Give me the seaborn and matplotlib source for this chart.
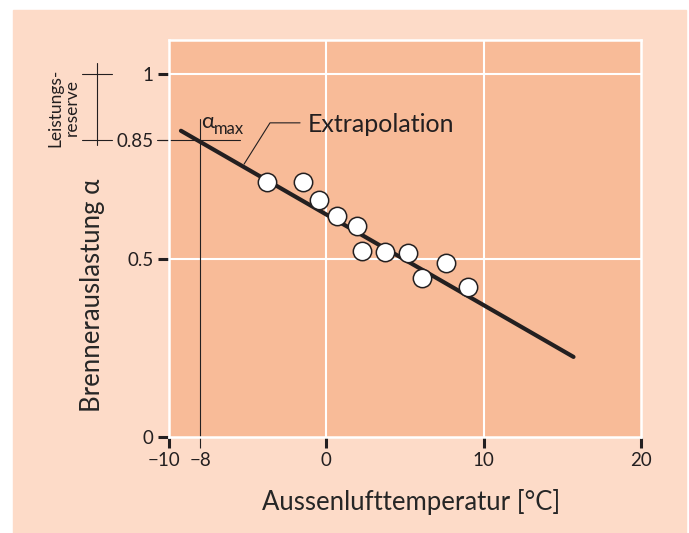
import numpy as np
import matplotlib
matplotlib.use('Agg')
import matplotlib.pyplot as plt
import matplotlib.transforms as mtransforms
from matplotlib.patches import Rectangle
import seaborn as sns

temp = [-3.74, -1.49, -0.49, 0.69, 1.93, 2.29, 3.76, 5.17, 6.09, 7.62, 9.01]
auslastung = [0.726, 0.727, 0.673, 0.627, 0.597, 0.523, 0.520, 0.518, 0.447, 0.489, 0.422]

# Extrapolationsgerade
line_x = [-9.24, 15.71]
line_y = [0.871, 0.225]

x_ticks = [-10, -8, 0, 10, 20]
x_labels = ['\u221210', '\u22128', '0', '10', '20']
y_ticks = [0, 0.5, 0.85, 1]
y_labels = ['0', '0.5', '0.85', '1']
grid_x = [0, 10]
grid_y = [0.5, 1]
t_ausl = -8
alpha_max = 0.85

dunkel = '#231F20'
bg_aussen = '#FDDBC8'
bg_plot = '#F8BB98'

sns.set_style('white')
plt.rcParams['font.family'] = ['Lato', 'DejaVu Sans']
plt.rcParams['text.color'] = dunkel

fig = plt.figure(figsize=(6.89, 5.33), dpi=100)
fig.patches.append(Rectangle((13 / 689, 0), 673 / 689, 523 / 533,
                             transform=fig.transFigure, color=bg_aussen, zorder=-10))
ax = fig.add_axes([169 / 689, 96 / 533, 472 / 689, 397 / 533])
ax.set_facecolor(bg_plot)

# y-Achse ist im Original nicht linear (schematisch)
ky = [-0.2, 0, 0.5, 0.85, 1, 1.2]
kp = [-71, 0, 178, 297, 363, 451]
fwd = lambda y: np.interp(y, ky, kp)
inv = lambda p: np.interp(p, kp, ky)
ax.set_yscale('function', functions=(fwd, inv))
ax.set_xlim(-10, 20)
ax.set_ylim(0, 1.0773)

for g in grid_x:
    ax.axvline(g, color='white', lw=1.5, zorder=0)
for g in grid_y:
    ax.axhline(g, color='white', lw=1.5, zorder=0)
for s in ax.spines.values():
    s.set_color('white')
    s.set_linewidth(1.8)

sns.lineplot(x=line_x, y=line_y, color=dunkel, lw=3, ax=ax, zorder=2)
sns.scatterplot(x=temp, y=auslastung, s=175, color='white', edgecolor=dunkel,
                linewidth=1.1, ax=ax, zorder=3)

# alpha_max Hilfslinien
ax.plot([t_ausl, t_ausl], [0.898, 0], color=dunkel, lw=0.8, clip_on=False, zorder=1)
ax.plot([-10.76, -5.49], [alpha_max, alpha_max], color=dunkel, lw=0.8, clip_on=False, zorder=1)
ax.text(-7.95, 0.877, '\u03b1', fontsize=16, va='baseline', ha='left')
ax.text(-7.15, 0.864, 'max', fontsize=12, va='baseline', ha='left')

# Beschriftung Extrapolation
ax.plot([-5.23, -3.58, -1.67], [0.779, 0.889, 0.889], color=dunkel, lw=0.8, zorder=2)
ax.text(-1.16, 0.886, 'Extrapolation', fontsize=18, va='center', ha='left')

# Leistungsreserve
ax.plot([-14.58, -14.58], [1.025, 0.835], color=dunkel, lw=0.8, clip_on=False)
ax.plot([-15.53, -13.62], [1, 1], color=dunkel, lw=0.8, clip_on=False)
ax.plot([-15.53, -13.62], [alpha_max, alpha_max], color=dunkel, lw=0.8, clip_on=False)
ax.text(-16.7, 0.923, 'Leistungs-\nreserve', fontsize=12.5, rotation=90,
        ha='center', va='center', multialignment='center', linespacing=1.0)

ax.set_xticks(x_ticks)
ax.set_xticklabels(x_labels)
ax.set_yticks(y_ticks)
ax.set_yticklabels(y_labels)
ax.minorticks_off()
ax.tick_params(axis='both', which='major', direction='out', length=8, width=2.2,
               color=dunkel, labelsize=13.5, labelcolor=dunkel, pad=3,
               left=True, bottom=True)
ax.xaxis.get_major_ticks()[1].tick1line.set_markeredgewidth(0.8)
ax.yaxis.get_major_ticks()[2].tick1line.set_markeredgewidth(0.8)
lab = ax.get_xticklabels()[0]
lab.set_transform(lab.get_transform() + mtransforms.ScaledTranslation(-0.05, 0, fig.dpi_scale_trans))

ax.set_xlabel('Aussenlufttemperatur [\u00b0C]', fontsize=18.5, va='center')
ax.xaxis.set_label_coords(0.513, -0.164)
ax.set_ylabel('Brennerauslastung \u03b1', fontsize=18.5, va='center')
ax.yaxis.set_label_coords(-0.163, 0.358)

fig.savefig('out.png', dpi=100)
